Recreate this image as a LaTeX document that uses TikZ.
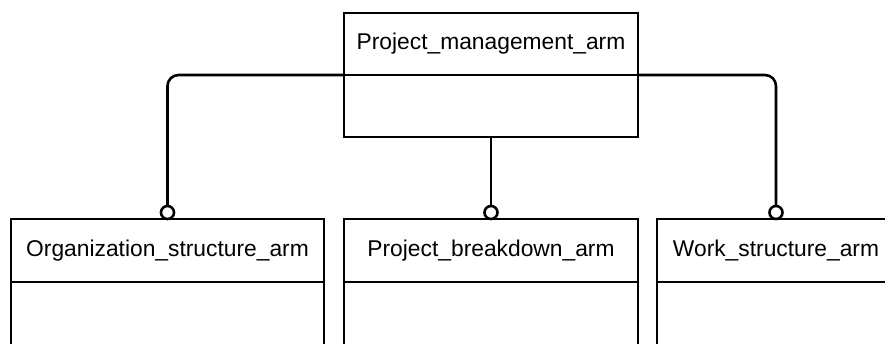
\documentclass[tikz,border=0pt]{standalone}
\usepackage{fontspec}
\setmainfont{Liberation Sans}
\usetikzlibrary{positioning}

\begin{document}
\begin{tikzpicture}[x=1pt,y=1pt,line width=2.6pt,
  title/.style={draw,rectangle,inner sep=0pt,outer sep=0pt,minimum height=62pt,font=\fontsize{22.8}{27}\selectfont},
  body/.style={draw,rectangle,inner sep=0pt,outer sep=0pt,minimum height=62pt},
  ring/.style={draw,circle,inner sep=0pt,outer sep=0pt,minimum size=13pt,fill=white,anchor=south},
  link/.style={rounded corners=11pt}]
  \useasboundingbox (0,0) rectangle (885,343);
  \clip (0,0) rectangle (885,343);
  \node[title,minimum width=294pt] at (491,299)(pm){Project\_management\_arm};
  \node[body,minimum width=294pt,below=0pt of pm](pmb){};
  \node[title,minimum width=294pt,minimum height=63pt,below=82pt of pmb](pb){Project\_breakdown\_arm};
  \node[title,minimum width=313pt,minimum height=63pt,left=20pt of pb](os){Organization\_structure\_arm};
  \node[title,minimum width=238pt,minimum height=63pt,right=19pt of pb](ws){Work\_structure\_arm};
  \node[body,minimum width=294pt,minimum height=90pt,below=0pt of pb](pbb){};
  \node[body,minimum width=313pt,minimum height=90pt,below=0pt of os](osb){};
  \node[body,minimum width=238pt,minimum height=90pt,below=0pt of ws](wsb){};
  \node[ring] at (os.north)(osr){};
  \node[ring] at (pb.north)(pbr){};
  \node[ring] at (ws.north)(wsr){};
  \draw[link] (pm.south west) -| (osr);
  \draw[link] (pm.south east) -| (wsr);
  \draw (pmb) -- (pbr);
\end{tikzpicture}
\end{document}
